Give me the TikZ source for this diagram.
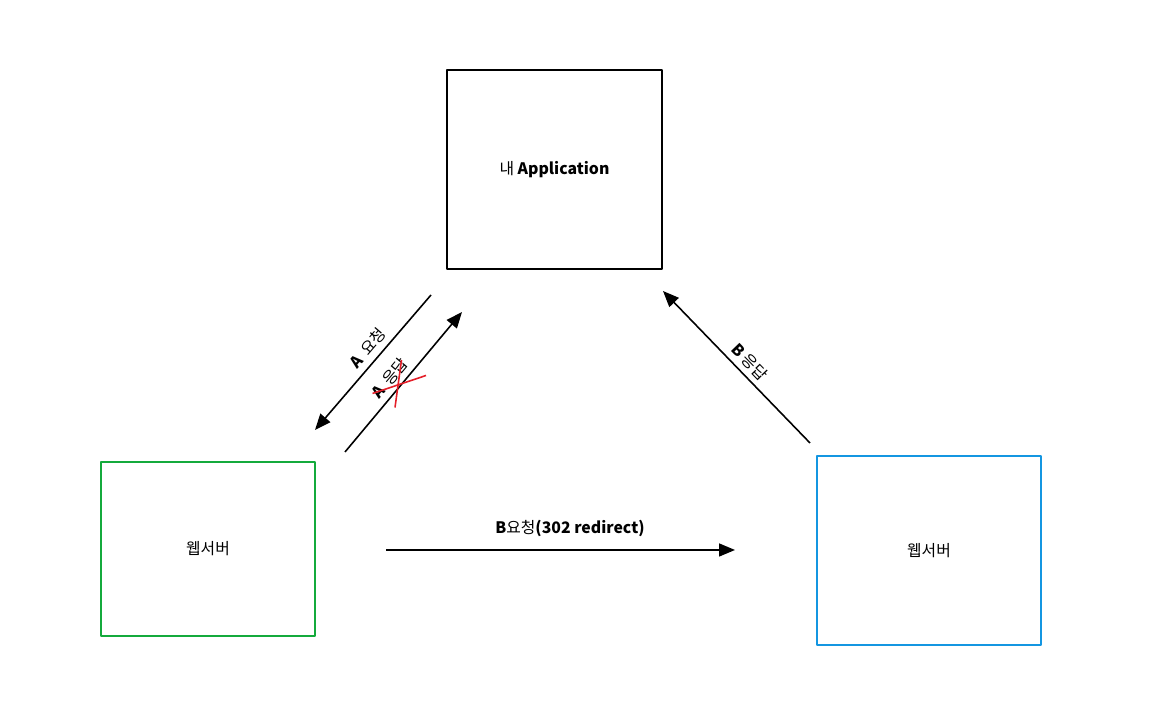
\documentclass[tikz,border=0pt]{standalone}
\usepackage{fontspec}
\setmainfont{Noto Sans CJK KR}
\usepackage{tikz}
\usepackage{xcolor}
\usetikzlibrary{arrows.meta}

\definecolor{boxgreen}{RGB}{20,170,60}
\definecolor{boxblue}{RGB}{20,150,225}
\definecolor{crossred}{RGB}{228,30,40}

\tikzset{
    box/.style={draw, line width=0.9pt, font=\fontsize{9}{11}\selectfont},
    flow/.style={line width=0.9pt, -{Triangle[length=0.32cm, width=0.26cm]}},
    lbl/.style={font=\fontsize{9}{11}\selectfont, inner sep=1pt}
}

\begin{document}
\begin{tikzpicture}[line cap=butt, line join=round]

% Marco de la imagen
\useasboundingbox (0,0) rectangle (23.4,14.04);

% === CAJAS ===
\node[box, minimum width=4.3cm, minimum height=3.98cm] (app) at (11.09,10.65) {내 \textbf{Application}};
\node[box, draw=boxgreen, minimum width=4.28cm, minimum height=3.48cm] (websrvA) at (4.16,3.06) {웹서버};
\node[box, draw=boxblue, minimum width=4.48cm, minimum height=3.78cm] (websrvB) at (18.58,3.03) {웹서버};

% === EXTREMOS DE FLECHAS ===
\coordinate (reqAs) at (8.62,8.14);
\coordinate (reqAe) at (6.30,5.44);
\coordinate (resAs) at (6.90,5.00);
\coordinate (resAe) at (9.24,7.80);
\coordinate (resBs) at (16.20,5.18);
\coordinate (resBe) at (13.26,8.22);
\coordinate (reqBs) at (7.72,3.04);
\coordinate (reqBe) at (14.70,3.04);

% === FLECHAS ===
\draw[flow] (reqAs) -- (reqAe);
\draw[flow] (resAs) -- (resAe);
\draw[flow] (resBs) -- (resBe);
\draw[flow] (reqBs) -- (reqBe);

% === ETIQUETAS ===
\node[lbl, rotate=49.3] (lblreqA) at (7.36,7.08) {\textbf{A}\, 요청};
\node[lbl, rotate=50.1] (lblresA) at (7.80,6.48) {\textbf{A}\, 응답};
\node[lbl, rotate=-46] (lblresB) at (15.00,6.80) {\textbf{B} 응답};
\node[lbl] (lblreqB) at (11.40,3.48) {\textbf{B}요청\textbf{(302 redirect)}};

% Cruz roja sobre la respuesta A
\draw[crossred, line width=0.9pt] (7.45,6.17) -- (8.52,6.53);
\draw[crossred, line width=0.9pt] (8.03,6.84) -- (7.90,5.89);

\end{tikzpicture}
\end{document}
